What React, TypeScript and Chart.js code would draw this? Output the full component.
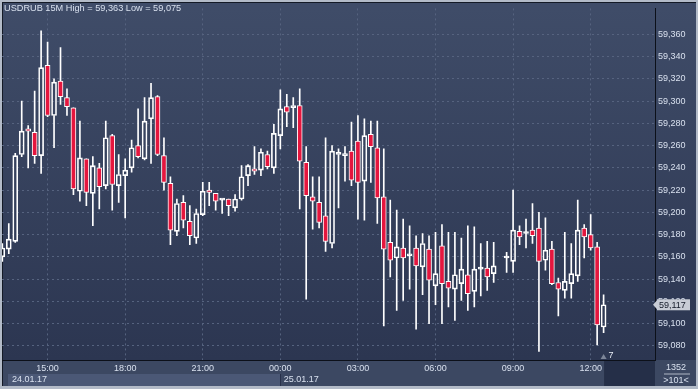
import React, { useEffect, useRef } from "react";
import { Chart, registerables } from "chart.js";

Chart.register(...registerables);

// ---------- data ----------
const symbol = "USDRUB";
const timeframe = "15M";
const dayLabels = ["24.01.17", "25.01.17"];
const barsTotalLabel = "1352";
const barsVisibleLabel = ">101<";
const futureBarsLabel = "7";

const times = [
  "13:15", "13:30", "13:45",
  "14:00", "14:15", "14:30", "14:45",
  "15:00", "15:15", "15:30", "15:45",
  "16:00", "16:15", "16:30", "16:45",
  "17:00", "17:15", "17:30", "17:45",
  "18:00", "18:15", "18:30", "18:45",
  "19:00", "19:15", "19:30", "19:45",
  "20:00", "20:15", "20:30", "20:45",
  "21:00", "21:15", "21:30", "21:45",
  "22:00", "22:15", "22:30", "22:45",
  "23:00", "23:15", "23:30", "23:45",
  "00:00", "00:15", "00:30", "00:45",
  "01:00", "01:15", "01:30", "01:45",
  "02:00", "02:15", "02:30", "02:45",
  "03:00", "03:15", "03:30", "03:45",
  "04:00", "04:15", "04:30", "04:45",
  "05:00", "05:15", "05:30", "05:45",
  "06:00", "06:15", "06:30", "06:45",
  "07:00", "07:15", "07:30", "07:45",
  "08:00", "08:15", "08:30", "08:45",
  "09:00", "09:15", "09:30", "09:45",
  "10:00", "10:15", "10:30", "10:45",
  "11:00", "11:15", "11:30", "11:45",
  "12:00", "12:15", "12:30",
];

const opens: (number | null)[] = [
  59160, 59167, 59174,
  59252, 59275, 59272, 59251,
  59332, 59287, 59318, 59303,
  59294, 59219, 59248, 59217,
  59240, 59224, 59269, 59224,
  59233, 59240, 59260, 59248,
  59284, 59304, 59251, 59226,
  59183, 59209, 59192, 59177,
  59198, 59220, 59217, 59211,
  59212, 59204, 59212, 59233,
  59239, 59238, 59252, 59240,
  59269, 59295, 59294, 59296,
  59245, 59214, 59209, 59197,
  59172, 59252, 59251, 59255,
  59264, 59228, 59270, 59258,
  59214, 59173, 59159, 59168,
  59161, 59168, 59151, 59167,
  59134, 59170, 59138, 59131,
  59136, 59144, 59129, 59149,
  59150, 59145, null, 59159,
  59156, 59183, 59181, 59184,
  59186, 59157, 59167, 59137,
  59130, 59136, 59143, 59186,
  59180, 59169, 59097,
];

const highs: (number | null)[] = [
  59172, 59190, 59253,
  59300, 59278, 59309, 59363,
  59353, 59320, 59348, 59311,
  59294, 59282, 59248, 59250,
  59244, 59282, 59270, 59252,
  59248, 59265, 59293, 59303,
  59316, 59305, 59267, 59232,
  59212, 59215, 59206, 59203,
  59227, 59227, 59217, 59212,
  59212, 59216, 59242, 59243,
  59259, 59257, 59255, 59279,
  59310, 59306, 59303, 59311,
  59259, 59232, 59232, 59267,
  59260, 59257, 59259, 59281,
  59287, 59284, 59282, 59282,
  59257, 59211, 59202, 59194,
  59188, 59179, 59181, 59179,
  59182, 59189, 59182, 59182,
  59177, 59188, 59187, 59172,
  59174, 59173, null, 59164,
  59220, 59188, 59194, 59208,
  59200, 59195, 59174, 59141,
  59182, 59172, 59211, 59189,
  59198, 59173, 59126,
];

const lows: (number | null)[] = [
  59156, 59163, 59173,
  59250, 59240, 59244, 59235,
  59286, 59258, 59297, 59287,
  59216, 59210, 59206, 59188,
  59203, 59221, 59202, 59209,
  59195, 59236, 59249, 59247,
  59244, 59251, 59220, 59171,
  59179, 59186, 59171, 59172,
  59197, 59206, 59202, 59199,
  59197, 59201, 59211, 59224,
  59234, 59233, 59239, 59235,
  59257, 59277, 59276, 59203,
  59122, 59185, 59186, 59165,
  59168, 59204, 59228, 59224,
  59194, 59193, 59227, 59190,
  59098, 59142, 59112, 59121,
  59131, 59095, 59126, 59100,
  59117, 59100, 59115, 59103,
  59121, 59112, 59115, 59125,
  59130, 59137, null, 59146,
  59146, 59171, 59168, 59172,
  59075, 59148, 59135, 59107,
  59123, 59123, 59138, 59159,
  59166, 59081, 59092,
];

const closes: (number | null)[] = [
  59168, 59176, 59251,
  59273, 59273, 59251, 59330,
  59287, 59317, 59304, 59295,
  59221, 59249, 59218, 59242,
  59223, 59267, 59225, 59234,
  59238, 59258, 59250, 59282,
  59303, 59252, 59227, 59184,
  59208, 59193, 59179, 59199,
  59219, 59218, 59210, 59211,
  59206, 59212, 59232, 59242,
  59237, 59254, 59241, 59271,
  59293, 59290, 59296, 59246,
  59215, 59210, 59191, 59174,
  59255, 59254, 59252, 59229,
  59227, 59269, 59259, 59213,
  59167, 59157, 59169, 59159,
  59161, 59152, 59172, 59139,
  59145, 59136, 59132, 59144,
  59149, 59127, 59149, 59149,
  59142, 59152, null, 59159,
  59184, 59178, 59181, 59179,
  59156, 59166, 59136, 59131,
  59138, 59145, 59184, 59178,
  59168, 59099, 59117,
];

const timeTicks = ["15:00", "18:00", "21:00", "00:00", "03:00", "06:00", "09:00", "12:00"];
const priceTicks = [
  59080, 59100, 59120, 59140, 59160, 59180, 59200, 59220,
  59240, 59260, 59280, 59300, 59320, 59340, 59360,
];

// ---------- helpers ----------
const numFmt = new Intl.NumberFormat("en-US");
const fmt = (v: number) => numFmt.format(v);

const slots: number[] = (() => {
  let day = 0;
  let prev = -1;
  return times.map((t) => {
    const [h, m] = t.split(":").map(Number);
    const mm = h * 60 + m;
    if (mm < prev) day++;
    prev = mm;
    return day * 96 + mm / 15;
  });
})();
const slotOf = (label: string) => slots[times.indexOf(label)];
const labelOfSlot = (v: number) => {
  const i = slots.indexOf(v);
  return i >= 0 ? times[i] : "";
};

const RED = "#e5163e";
const WHITE = "#ffffff";
const FONT = "'Liberation Sans', Arial, sans-serif";
const TEXT = "#d8e0ee";

const barIdx = times.map((_, i) => i).filter((i) => opens[i] != null);
const bodies = barIdx.map((i) => ({ x: slots[i], y: [opens[i] as number, closes[i] as number] }));
const bodyFill = barIdx.map((i) => ((closes[i] as number) < (opens[i] as number) ? RED : "rgba(0,0,0,0)"));
const upperWicks = barIdx.map((i) => ({
  x: slots[i],
  y: [Math.max(opens[i] as number, closes[i] as number), highs[i] as number],
}));
const lowerWicks = barIdx.map((i) => ({
  x: slots[i],
  y: [lows[i] as number, Math.min(opens[i] as number, closes[i] as number)],
}));

const hiVal = Math.max(...(highs.filter((v) => v != null) as number[]));
const loVal = Math.min(...(lows.filter((v) => v != null) as number[]));
const lastIdx = barIdx[barIdx.length - 1];
const lastClose = closes[lastIdx] as number;
const title = `${symbol} ${timeframe} High = ${fmt(hiVal)} Low = ${fmt(loVal)}`;

const decor = {
  id: "decor",
  beforeDraw(chart: any) {
    const { ctx, width: W, height: H } = chart;
    const ca = chart.chartArea;
    const xs = chart.scales.x;
    ctx.save();
    // frame
    ctx.fillStyle = "#b3bbc8";
    ctx.fillRect(0, 0, W, H);
    // plot + price axis background
    const g = ctx.createLinearGradient(0, ca.top, 0, ca.bottom);
    g.addColorStop(0, "#3f4c68");
    g.addColorStop(1, "#2c3651");
    ctx.fillStyle = g;
    ctx.fillRect(2, 2, W - 4, ca.bottom - 2);
    // time strip
    ctx.fillStyle = "#3c4862";
    ctx.fillRect(2, ca.bottom, W - 4, H - 3 - ca.bottom);
    // date band for first day
    const midX = xs.getPixelForValue(slotOf("00:00"));
    ctx.fillStyle = "#4b5876";
    ctx.fillRect(8, ca.bottom + 14, midX - 8, H - 3 - ca.bottom - 14);
    ctx.fillStyle = "#27304a";
    ctx.fillRect(Math.round(midX), ca.bottom + 14, 1, H - 3 - ca.bottom - 14);
    // future block
    const lastX = xs.getPixelForValue(slots[lastIdx]);
    ctx.fillStyle = "#252f48";
    ctx.fillRect(lastX + 0.5, ca.bottom + 1, ca.right - lastX - 0.5, H - 4 - ca.bottom);
    // inner dark edges
    ctx.fillStyle = "#141a26";
    ctx.fillRect(2, 2, 1, H - 5);
    ctx.fillRect(2, 2, W - 4, 1);
    ctx.restore();
  },
  afterDraw(chart: any) {
    const { ctx, width: W, height: H } = chart;
    const ca = chart.chartArea;
    const xs = chart.scales.x;
    const ys = chart.scales.y;
    ctx.save();
    ctx.font = `9.2px ${FONT}`;
    ctx.textBaseline = "middle";
    // title
    ctx.fillStyle = TEXT;
    ctx.textAlign = "left";
    ctx.fillText(title, 4, 8);
    // date labels
    ctx.font = `9px ${FONT}`;
    const midX = xs.getPixelForValue(slotOf("00:00"));
    ctx.fillText(dayLabels[0], 12, ca.bottom + 19.5);
    ctx.fillText(dayLabels[1], midX + 3.5, ca.bottom + 19.5);
    // future marker
    const lastX = xs.getPixelForValue(slots[lastIdx]);
    ctx.fillStyle = "#7c8598";
    ctx.beginPath();
    ctx.moveTo(lastX - 3, ca.bottom - 1);
    ctx.lineTo(lastX + 3, ca.bottom - 1);
    ctx.lineTo(lastX, ca.bottom - 6);
    ctx.closePath();
    ctx.fill();
    ctx.fillStyle = "#e8edf5";
    ctx.fillText(futureBarsLabel, lastX + 5, ca.bottom - 4);
    // price tag
    const py = ys.getPixelForValue(lastClose);
    ctx.fillStyle = "#c8ccd5";
    ctx.fillRect(ca.right + 2, py - 5.5, 33, 11);
    ctx.beginPath();
    ctx.moveTo(ca.right - 2, py);
    ctx.lineTo(ca.right + 2.5, py - 5);
    ctx.lineTo(ca.right + 2.5, py + 5);
    ctx.closePath();
    ctx.fill();
    ctx.fillStyle = "#141a28";
    ctx.fillText(fmt(lastClose), ca.right + 4, py + 0.5);
    // corner counters
    ctx.fillStyle = TEXT;
    ctx.textAlign = "center";
    const cx = (ca.right + W - 2) / 2 + 0.5;
    ctx.fillText(barsTotalLabel, cx, ca.bottom + 7.5);
    ctx.fillText(barsVisibleLabel, cx, ca.bottom + 20.5);
    ctx.fillStyle = "#aeb6c4";
    ctx.fillRect(ca.right + 9, ca.bottom + 13.5, 26, 1);
    ctx.restore();
  },
};

export default function App() {
  const ref = useRef<HTMLCanvasElement>(null);
  useEffect(() => {
    const canvas = ref.current;
    if (!canvas) return;
    const firstSlot = slots[0];
    const lastSlot = slots[slots.length - 1];
    const chart = new Chart(canvas, {
      type: "bar",
      data: {
        datasets: [
          {
            label: "body",
            data: bodies as any,
            backgroundColor: bodyFill,
            borderColor: WHITE,
            borderWidth: 1,
            borderSkipped: false,
            barThickness: 5,
            minBarLength: 2,
            grouped: false,
          } as any,
          {
            label: "upper",
            data: upperWicks as any,
            backgroundColor: WHITE,
            borderWidth: 0,
            barThickness: 1,
            grouped: false,
          } as any,
          {
            label: "lower",
            data: lowerWicks as any,
            backgroundColor: WHITE,
            borderWidth: 0,
            barThickness: 1,
            grouped: false,
          } as any,
        ],
      },
      options: {
        animation: false,
        responsive: false,
        maintainAspectRatio: false,
        devicePixelRatio: 1,
        events: [],
        layout: { padding: { left: 2, top: 2, right: 0, bottom: 0 } },
        plugins: { legend: { display: false }, tooltip: { enabled: false }, title: { display: false } },
        scales: {
          x: {
            type: "linear",
            offset: false,
            min: firstSlot - 0.05,
            max: lastSlot + 7.95,
            afterBuildTicks: (axis: any) => {
              axis.ticks = timeTicks.map((t) => ({ value: slotOf(t) }));
            },
            afterFit: (axis: any) => {
              axis.height = 29;
            },
            grid: { offset: false, color: "#56637f", drawTicks: false, lineWidth: 1 },
            border: { display: true, color: "#0c1019", width: 1, dash: [2, 3] },
            ticks: {
              autoSkip: false,
              maxRotation: 0,
              padding: 3,
              color: TEXT,
              font: { family: FONT, size: 9 },
              callback: (v: any) => labelOfSlot(Number(v)),
            },
          },
          y: {
            type: "linear",
            position: "right",
            beginAtZero: false,
            min: 59067.4,
            max: 59383.2,
            afterBuildTicks: (axis: any) => {
              axis.ticks = priceTicks.map((v) => ({ value: v }));
            },
            afterFit: (axis: any) => {
              axis.width = 43;
            },
            grid: { color: "#56637f", drawTicks: false, lineWidth: 1 },
            border: { display: true, color: "#0c1019", width: 1, dash: [2, 3] },
            ticks: {
              autoSkip: false,
              padding: 3,
              color: TEXT,
              font: { family: FONT, size: 9 },
              callback: (v: any) => fmt(Number(v)),
            },
          },
        },
      } as any,
      plugins: [decor],
    });
    return () => chart.destroy();
  }, []);
  return (
    <div style={{ position: "absolute", left: 0, top: 0, width: 698, height: 389 }}>
      <canvas ref={ref} width={698} height={389} style={{ display: "block", width: 698, height: 389 }} />
    </div>
  );
}
